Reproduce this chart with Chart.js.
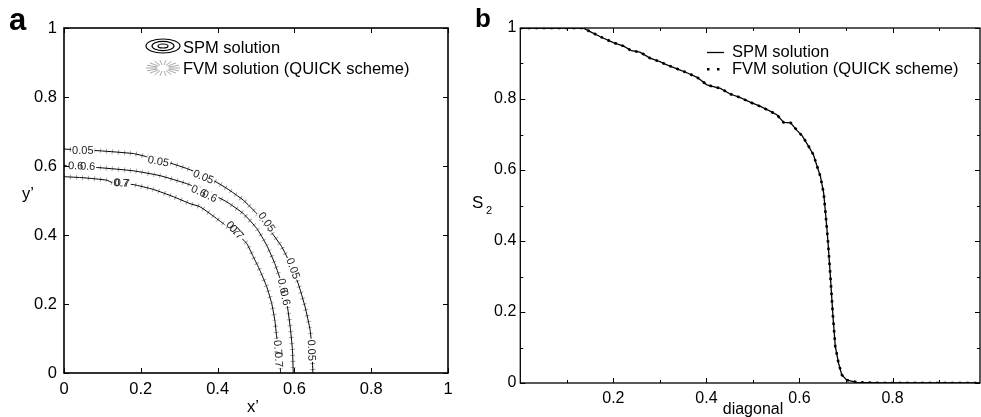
<!DOCTYPE html>
<html>
<head>
<meta charset="utf-8">
<script src="https://cdn.jsdelivr.net/npm/chart.js@4/dist/chart.umd.min.js"></script>
<style>
  html, body { margin: 0; padding: 0; background: #fff; }
  #wrap { position: relative; width: 981px; height: 417px; overflow: hidden; }
  #chartA { position: absolute; left: 0; top: 0; }
  #chartB { position: absolute; left: 460px; top: 0; }
</style>
</head>
<body>
<div id="wrap">
  <canvas id="chartA" width="480" height="417"></canvas>
  <canvas id="chartB" width="521" height="417"></canvas>
</div>
<script>
// ---- panel a : contour lines (x', y') ----
const c005X = [0, 0.094, 0.181, 0.215, 0.267, 0.319, 0.372, 0.424, 0.467, 0.502, 0.536, 0.567, 0.589, 0.61, 0.628, 0.641, 0.646, 0.648];
const c005Y = [0.649, 0.644, 0.636, 0.627, 0.612, 0.593, 0.569, 0.535, 0.501, 0.462, 0.414, 0.366, 0.317, 0.259, 0.191, 0.124, 0.066, 0];

const c06X = [0, 0.094, 0.181, 0.25, 0.319, 0.372, 0.424, 0.467, 0.502, 0.528, 0.549, 0.567, 0.582, 0.59, 0.595, 0.597];
const c06Y = [0.601, 0.595, 0.586, 0.572, 0.549, 0.525, 0.496, 0.462, 0.419, 0.37, 0.317, 0.259, 0.191, 0.124, 0.066, 0];

const c07X = [0, 0.05, 0.111, 0.128, 0.181, 0.233, 0.285, 0.328, 0.354, 0.38, 0.415, 0.45, 0.476, 0.493, 0.51, 0.528, 0.541, 0.549, 0.554, 0.561, 0.564];
const c07Y = [0.569, 0.566, 0.559, 0.551, 0.546, 0.532, 0.511, 0.491, 0.482, 0.462, 0.433, 0.404, 0.375, 0.337, 0.298, 0.25, 0.201, 0.153, 0.104, 0.056, 0];

const ticksA = [0, 0.2, 0.4, 0.6, 0.8, 1];

// ---- panel b : S2 along the diagonal ----
const diagonalX = [0, 0.135, 0.15, 0.171, 0.2, 0.222, 0.239, 0.257, 0.279, 0.3, 0.315, 0.337, 0.358, 0.38, 0.401, 0.415, 0.43, 0.451, 0.473, 0.494, 0.516, 0.538, 0.552, 0.566, 0.581, 0.595, 0.606, 0.62, 0.63, 0.637, 0.645, 0.652, 0.656, 0.661, 0.666, 0.672, 0.677, 0.684, 0.691, 0.702, 0.724, 0.773, 0.99];
const spmS2 = [1, 1, 0.99, 0.976, 0.959, 0.949, 0.936, 0.932, 0.915, 0.905, 0.896, 0.885, 0.874, 0.861, 0.84, 0.835, 0.83, 0.814, 0.804, 0.791, 0.779, 0.765, 0.755, 0.734, 0.733, 0.711, 0.696, 0.666, 0.643, 0.614, 0.582, 0.535, 0.479, 0.403, 0.309, 0.188, 0.103, 0.056, 0.023, 0.008, 0.002, 0, 0];
const fvmS2 = spmS2.slice(); // the two solutions lie on top of each other

const majorB = [0.2, 0.4, 0.6, 0.8];
const minorB = [0.1, 0.3, 0.5, 0.7, 0.9];
const yMajorB = [0, 0.2, 0.4, 0.6, 0.8, 1];
const yMinorB = [0.1, 0.3, 0.5, 0.7, 0.9];

const FONT = "'Liberation Sans', Arial, Helvetica, sans-serif";

function pts(xs, ys) {
  return xs.map((x, i) => ({ x: x, y: ys[i] }));
}

// "1" not "1.0"
const fmt = v => String(Math.round(v * 10) / 10);

// inward ticks on all four sides + box
const frameTicks = {
  id: 'frameTicks',
  afterDraw(chart, args, o) {
    const { ctx, chartArea: a, scales: { x, y } } = chart;
    ctx.save();
    ctx.strokeStyle = '#000';
    ctx.lineWidth = 1;
    ctx.beginPath();
    const xt = (list, len) => list.forEach(v => {
      const p = Math.round(x.getPixelForValue(v)) + 0.5;
      ctx.moveTo(p, a.bottom); ctx.lineTo(p, a.bottom - len);
      ctx.moveTo(p, a.top); ctx.lineTo(p, a.top + len);
    });
    const yt = (list, len) => list.forEach(v => {
      const p = Math.round(y.getPixelForValue(v)) + 0.5;
      ctx.moveTo(a.left, p); ctx.lineTo(a.left + len, p);
      ctx.moveTo(a.right, p); ctx.lineTo(a.right - len, p);
    });
    xt(o.xMajor, o.major); yt(o.yMajor, o.major);
    if (o.xMinor) xt(o.xMinor, o.minor);
    if (o.yMinor) yt(o.yMinor, o.minor);
    ctx.stroke();
    ctx.lineWidth = o.box;
    ctx.strokeRect(a.left, a.top, a.right - a.left, a.bottom - a.top);
    ctx.restore();
  }
};

// contour labels of panel a (text, data anchor, angle, duplicate offset)
const contourLabels = [
  { t: '0.05', x: 0.049, y: 0.646, a: 0, d: 0 },
  { t: '0.05', x: 0.246, y: 0.614, a: 10, d: 0 },
  { t: '0.05', x: 0.363, y: 0.569, a: 22, d: 0 },
  { t: '0.05', x: 0.528, y: 0.438, a: 55, d: 0 },
  { t: '0.05', x: 0.597, y: 0.303, a: 70, d: 0 },
  { t: '0.05', x: 0.645, y: 0.066, a: 88, d: 0 },
  { t: '0.6', x: 0.046, y: 0.6, a: 2, d: 6 },
  { t: '0.6', x: 0.365, y: 0.52, a: 24, d: 6 },
  { t: '0.6', x: 0.573, y: 0.235, a: 78, d: 6 },
  { t: '0.7', x: 0.15, y: 0.551, a: 3, d: 0.6 },
  { t: '0.7', x: 0.445, y: 0.414, a: 48, d: 2.5 },
  { t: '0.7', x: 0.558, y: 0.056, a: 86, d: 6 }
];

const labelsPlugin = {
  id: 'contourLabels',
  afterDatasetsDraw(chart) {
    const { ctx, scales: { x, y } } = chart;
    ctx.save();
    ctx.font = '11px ' + FONT;
    ctx.textAlign = 'center';
    ctx.textBaseline = 'middle';
    contourLabels.forEach(l => {
      const px = x.getPixelForValue(l.x), py = y.getPixelForValue(l.y);
      const w = ctx.measureText(l.t).width + 2 * l.d;
      ctx.save();
      ctx.translate(px, py);
      ctx.rotate(l.a * Math.PI / 180);
      ctx.fillStyle = '#fff';
      ctx.fillRect(-w / 2 - 1, -4, w + 2, 8);
      ctx.fillStyle = '#222';
      if (l.d > 0) {
        ctx.fillText(l.t, -l.d, 0.5);
        ctx.fillText(l.t, l.d, 0.5);
      } else {
        ctx.fillText(l.t, 0, 0.5);
      }
      ctx.restore();
    });
    ctx.restore();
  }
};

const decoA = {
  id: 'decoA',
  afterDraw(chart) {
    const ctx = chart.ctx;
    ctx.save();
    ctx.fillStyle = '#000';
    ctx.textBaseline = 'middle';
    ctx.textAlign = 'left';
    ctx.font = 'bold 31px ' + FONT;
    ctx.fillText('a', 9, 21);
    ctx.font = '16.5px ' + FONT;
    ctx.fillText('SPM solution', 183, 48);
    ctx.fillText('FVM solution (QUICK scheme)', 183, 69);
    ctx.textAlign = 'center';
    ctx.fillText('x\u2019', 253, 407);
    ctx.fillText('y\u2019', 28, 194);
    // legend icons
    ctx.strokeStyle = '#000';
    ctx.lineWidth = 1.2;
    [[17, 7], [11, 4.6], [5, 2]].forEach(r => {
      ctx.beginPath();
      ctx.ellipse(163, 46, r[0], r[1], 0, 0, Math.PI * 2);
      ctx.stroke();
    });
    ctx.strokeStyle = '#aaa';
    ctx.lineWidth = 1;
    ctx.beginPath();
    for (let k = 0; k < 18; k++) {
      const ang = k * Math.PI / 9;
      const c = Math.cos(ang), s = Math.sin(ang);
      ctx.moveTo(163 + 6 * c, 68 + 3 * s);
      ctx.lineTo(163 + 17 * c, 68 + 8 * s);
    }
    ctx.stroke();
    ctx.restore();
  }
};

const decoB = {
  id: 'decoB',
  afterDraw(chart) {
    const ctx = chart.ctx;
    ctx.save();
    ctx.fillStyle = '#000';
    ctx.textBaseline = 'middle';
    ctx.textAlign = 'left';
    ctx.font = 'bold 26px ' + FONT;
    ctx.fillText('b', 15, 20);
    ctx.font = '16.5px ' + FONT;
    ctx.fillText('SPM solution', 272, 52);
    ctx.fillText('FVM solution (QUICK scheme)', 272, 69);
    ctx.font = '17px ' + FONT;
    ctx.fillText('S', 12, 203);
    ctx.font = '11px ' + FONT;
    ctx.fillText('2', 26, 211);
    ctx.font = '16px ' + FONT;
    ctx.textAlign = 'center';
    ctx.fillText('diagonal', 293, 410);
    // legend samples
    ctx.strokeStyle = '#000';
    ctx.lineWidth = 1.3;
    ctx.beginPath();
    ctx.moveTo(247, 52.5); ctx.lineTo(264, 52.5);
    ctx.stroke();
    ctx.fillRect(247, 68, 2.5, 2.5);
    ctx.fillRect(257, 68, 2.5, 2.5);
    ctx.restore();
  }
};

function contourSets(xs, ys) {
  const data = pts(xs, ys);
  return [
    { data: data, borderColor: '#000', borderWidth: 1, pointRadius: 0, tension: 0.15, order: 0 },
    { data: data, borderColor: '#a6a6a6', borderWidth: 5, borderDash: [1, 5], borderCapStyle: 'butt', pointRadius: 0, tension: 0.15, order: 1 }
  ];
}

const chartA = new Chart(document.getElementById('chartA'), {
  type: 'line',
  data: {
    datasets: [].concat(contourSets(c005X, c005Y), contourSets(c06X, c06Y), contourSets(c07X, c07Y))
  },
  options: {
    responsive: false,
    animation: false,
    events: [],
    layout: { padding: { top: 28, right: 32, left: 0, bottom: 0 } },
    plugins: {
      legend: { display: false },
      tooltip: { enabled: false },
      frameTicks: { xMajor: ticksA, yMajor: ticksA, major: 5, box: 1.6 }
    },
    scales: {
      x: {
        type: 'linear', min: 0, max: 1,
        grid: { display: false, drawTicks: false },
        border: { display: false },
        ticks: { stepSize: 0.2, padding: 7, color: '#000', font: { family: FONT, size: 16.5 }, maxRotation: 0, callback: fmt },
        afterFit: s => { s.height = 44; }
      },
      y: {
        type: 'linear', min: 0, max: 1,
        grid: { display: false, drawTicks: false },
        border: { display: false },
        ticks: { stepSize: 0.2, padding: 7, color: '#000', font: { family: FONT, size: 16.5 }, callback: fmt },
        afterFit: s => { s.width = 64; }
      }
    }
  },
  plugins: [labelsPlugin, frameTicks, decoA]
});

const chartB = new Chart(document.getElementById('chartB'), {
  type: 'line',
  data: {
    datasets: [
      { label: 'SPM solution', data: pts(diagonalX, spmS2), borderColor: '#000', borderWidth: 1.3, pointRadius: 0, tension: 0, order: 1 },
      { label: 'FVM solution (QUICK scheme)', data: pts(diagonalX, fvmS2), borderColor: '#000', borderWidth: 2.6, borderDash: [2.5, 5], pointRadius: 0, tension: 0, order: 0 }
    ]
  },
  options: {
    responsive: false,
    animation: false,
    events: [],
    layout: { padding: { top: 28, right: 1, left: 0, bottom: 0 } },
    plugins: {
      legend: { display: false },
      tooltip: { enabled: false },
      frameTicks: { xMajor: majorB, xMinor: minorB, yMajor: yMajorB, yMinor: yMinorB, major: 5, minor: 3, box: 1.3 }
    },
    scales: {
      x: {
        type: 'linear', min: 0, max: 0.988,
        grid: { display: false, drawTicks: false },
        border: { display: false },
        ticks: {
          stepSize: 0.2, includeBounds: false, padding: 6, color: '#000',
          font: { family: FONT, size: 16 }, maxRotation: 0,
          callback: v => (v === 0 ? '' : fmt(v))
        },
        afterFit: s => { s.height = 34; }
      },
      y: {
        type: 'linear', min: 0, max: 1,
        grid: { display: false, drawTicks: false },
        border: { display: false },
        ticks: { stepSize: 0.2, padding: 4, color: '#000', font: { family: FONT, size: 16 }, callback: fmt },
        afterFit: s => { s.width = 60.3; }
      }
    }
  },
  plugins: [frameTicks, decoB]
});
</script>
</body>
</html>
